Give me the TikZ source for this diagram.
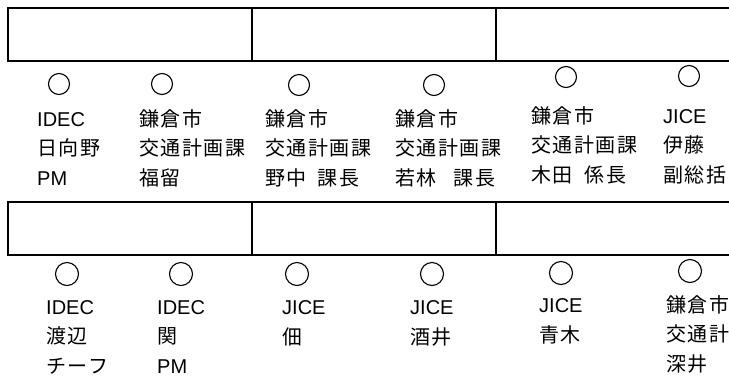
\documentclass[tikz,border=0pt]{standalone}
\usepackage{fontspec}
\setmainfont{Noto Sans CJK JP}[LetterSpace=8]
\newfontfamily\latfont{Liberation Sans}
\newcommand{\lt}[1]{{\latfont #1}}
\usetikzlibrary{positioning}

\begin{document}
\begin{tikzpicture}[x=1pt, y=-1pt,
    frame/.style={draw, line width=1.6pt, minimum width=244pt, minimum height=53pt,
                  inner sep=0pt, outer sep=0pt, anchor=north west},
    maru/.style={draw, circle, line width=1.1pt, inner sep=0pt},
    member/.style={anchor=base west, align=left, inner sep=0pt,
                   font=\fontsize{20}{29.5}\selectfont}]
    \clip (0,0) rectangle (729,376);
    % upper row
    \node[frame] (U1) at (8,8)   {};
    \node[frame] (U2) at (252,8) {};
    \node[frame] (U3) at (496,8) {};
    \node[maru, minimum size=21pt] (uc1) at (59,84)  {};
    \node[maru, minimum size=21pt] (uc2) at (162,84) {};
    \node[maru, minimum size=21pt] (uc3) at (299,85) {};
    \node[maru, minimum size=21pt] (uc4) at (434,85) {};
    \node[maru, minimum size=21pt] (uc5) at (566,77) {};
    \node[maru, minimum size=21pt] (uc6) at (689,76) {};
    % base = last line
    \node[member] (um1) at (37,185)  {\lt{IDEC}\\日向野\\\lt{PM}};
    \node[member] (um2) at (139,185) {鎌倉市\\交通計画課\\福留};
    \node[member] (um3) at (265,185) {鎌倉市\\交通計画課\\野中\hspace{11pt}課長};
    \node[member] (um4) at (395,185) {鎌倉市\\交通計画課\\若林\hspace{17pt}課長};
    \node[member] (um5) at (531,182) {鎌倉市\\交通計画課\\木田\hspace{12pt}係長};
    \node[member] (um6) at (663,182) {\lt{JICE}\\伊藤\\副総括};
    % lower row
    \node[frame] (L1) at (8,202)   {};
    \node[frame] (L2) at (252,202) {};
    \node[frame] (L3) at (496,202) {};
    \node[maru, minimum size=23pt] (lc1) at (67,274)  {};
    \node[maru, minimum size=23pt] (lc2) at (181,274) {};
    \node[maru, minimum size=23pt] (lc3) at (297,274) {};
    \node[maru, minimum size=23pt] (lc4) at (432,274) {};
    \node[maru, minimum size=23pt] (lc5) at (561,273) {};
    \node[maru, minimum size=23pt] (lc6) at (690,271) {};
    \node[member] (lm1) at (46,373)  {\lt{IDEC}\\渡辺\\チーフ};
    \node[member] (lm2) at (157,373) {\lt{IDEC}\\関\\\lt{PM}};
    \node[member] (lm3) at (282,344) {\lt{JICE}\\佃};
    \node[member] (lm4) at (410,344) {\lt{JICE}\\酒井};
    \node[member] (lm5) at (539,342) {\lt{JICE}\\青木};
    \node[member] (lm6) at (666,371) {鎌倉市\\交通計\\深井};
\end{tikzpicture}
\end{document}
